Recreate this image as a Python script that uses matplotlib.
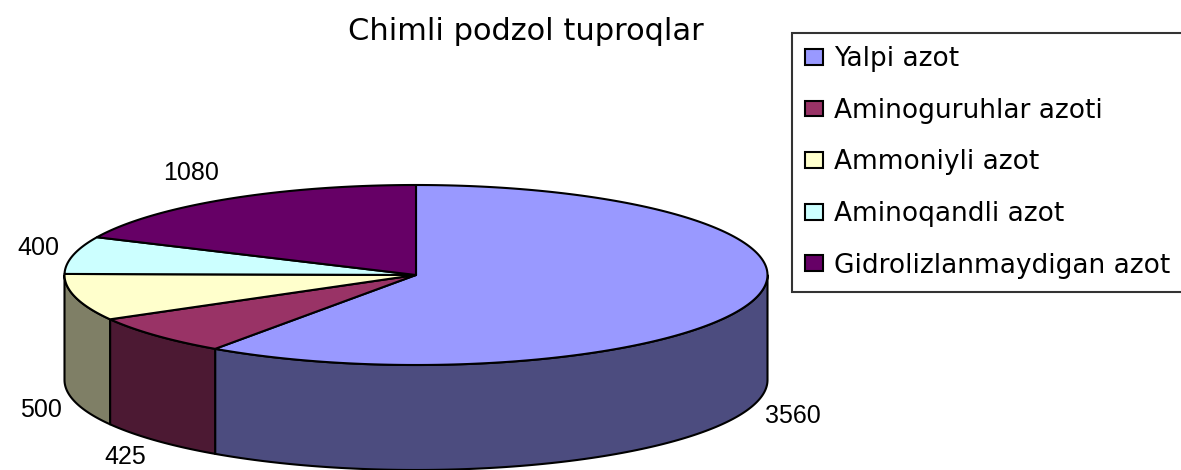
import numpy as np
import matplotlib
matplotlib.use("Agg")
import matplotlib.pyplot as plt
from matplotlib.patches import Polygon, Patch

plt.rcParams["font.family"] = ["DejaVu Sans"]

title = "Chimli podzol tuproqlar"
categories = ["Yalpi azot", "Aminoguruhlar azoti", "Ammoniyli azot",
              "Aminoqandli azot", "Gidrolizlanmaydigan azot"]
values = [3560, 425, 500, 400, 1080]
top_colors = ["#9999FF", "#993366", "#FFFFCC", "#CCFFFF", "#660066"]
side_colors = ["#4C4C7F", "#4C1933", "#7F7F66", "#667F7F", "#330033"]

W, H = 1181, 470
fig = plt.figure(figsize=(W / 100, H / 100), dpi=100)
ax = fig.add_axes([0, 0, 1, 1])
ax.set_xlim(0, W)
ax.set_ylim(H, 0)
ax.axis("off")

# pie geometry (pixel units): centre, radii of the top ellipse, thickness
cx, cy, rx, ry, depth = 416, 275, 351.5, 90, 105


def arc(t1, t2, dz=0.0, n=200):
    t = np.radians(np.linspace(t1, t2, n))
    return np.column_stack([cx + rx * np.cos(t), cy - ry * np.sin(t) + dz])


total = float(sum(values))
cum = np.concatenate([[0], np.cumsum(values)])
theta_start = 90 - 360 * cum[:-1] / total   # clockwise from 12 o'clock
theta_end = 90 - 360 * cum[1:] / total

# side walls: only the front half (sin < 0) is visible
for i in range(len(values)):
    lo, hi = theta_end[i], theta_start[i]
    for k in (-1, 0, 1):
        a0, a1 = max(lo, 360 * k - 180), min(hi, 360 * k)
        if a1 > a0:
            top = arc(a0, a1)
            bot = arc(a1, a0, dz=depth)
            ax.add_patch(Polygon(np.vstack([top, bot]), closed=True,
                                 facecolor=side_colors[i], edgecolor="black",
                                 linewidth=1.5, joinstyle="round"))

# top faces
for i in range(len(values)):
    pts = np.vstack([[cx, cy], arc(theta_start[i], theta_end[i])])
    ax.add_patch(Polygon(pts, closed=True, facecolor=top_colors[i],
                         edgecolor="black", linewidth=1.5, joinstyle="round"))

# value labels outside each slice
for i, v in enumerate(values):
    mid = np.radians((theta_start[i] + theta_end[i]) / 2)
    c, s = np.cos(mid), np.sin(mid)
    x = cx + rx * c * 1.04
    y = cy - ry * s * 1.35 + (depth if s < 0 else 0)
    y = min(y, H - 13)
    ax.text(x, y, f"{v}", fontsize=18, family="Liberation Sans",
            ha="left" if c > 0 else "right", va="center", color="black")

ax.text(526, 32, title, fontsize=22, ha="center", va="center", color="black")

handles = [Patch(facecolor=col, edgecolor="black", linewidth=1.5)
           for col in top_colors]
leg = ax.legend(handles, categories, loc="upper left",
                bbox_to_anchor=(792 / W, 1 - 33 / H),
                bbox_transform=fig.transFigure,
                fontsize=19, frameon=True, fancybox=False,
                edgecolor="black", borderaxespad=0, borderpad=0.5,
                handlelength=0.68, handleheight=0.55, handletextpad=0.4,
                labelspacing=0.97)
leg.get_frame().set_linewidth(1.5)

fig.savefig("out.png", dpi=100)
